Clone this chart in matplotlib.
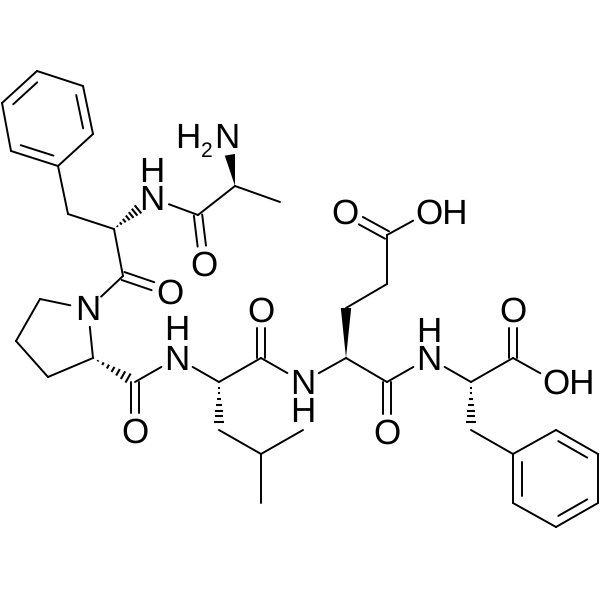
import matplotlib
matplotlib.use("Agg")
import matplotlib.pyplot as plt
import numpy as np

plt.rcParams["text.hinting"] = "no_hinting"
plt.rcParams["text.hinting_factor"] = 1

# atom positions in reference pixels
atom_names = ["r1","r2","r3","r4","r5","r6","cb1","ca1","c1","o1","n1","n2","c0","o0","ca0","me0","n0",
              "p1","p2","p3","p4","c2","o2","n3","ca3","c3","o3","cb3","cg3","d1","d2",
              "n4","ca4","c4","o4","cb4","cg4","cd4","oe1","oe2",
              "n5","ca5","c5","o5","oh5","cb5","s1","s2","s3","s4","s5","s6"]
atom_x = [37,83,93,58,11,2,68,114,123,170,88,152,198,204,235,280,227,
          40,16,48,93,135,135,177,219,261,261,219,261,261,303,
          303,346,387,387,346,387,387,345,429,
          429,471,513,513,556,471,513,556,598,598,556,513]
atom_y = [71,86,134,166,151,103,214,229,276,292,309,198,215,264,186,202,137,
          299,341,377,358,382,431,358,382,358,310,430,454,503,430,
          382,358,382,432,308,284,235,212,212,
          358,382,358,310,382,430,454,430,454,503,527,503]

single_bonds = [("r1","r2"),("r3","r4"),("r5","r6"),
                ("r4","cb1"),("cb1","ca1"),("ca1","c1"),("c1","n1"),
                ("n1","p1"),("p1","p2"),("p2","p3"),("p3","p4"),("p4","n1"),
                ("c0","n2"),("c0","ca0"),("ca0","me0"),
                ("c2","n3"),("n3","ca3"),("ca3","c3"),("c3","n4"),("n4","ca4"),
                ("cb3","cg3"),("cg3","d1"),("cg3","d2"),
                ("ca4","c4"),("c4","n5"),("n5","ca5"),("ca5","c5"),("c5","oh5"),
                ("cb4","cg4"),("cg4","cd4"),("cd4","oe2"),
                ("cb5","s1"),("s1","s2"),("s3","s4"),("s5","s6")]
carbonyls = [("c1","o1"),("c0","o0"),("c2","o2"),("c3","o3"),("c4","o4"),("cd4","oe1"),("c5","o5")]
ring_doubles = [("r1","r6",(45,102)),("r2","r3",(45,102)),("r4","r5",(45,102)),
                ("s2","s3",(556,479)),("s4","s5",(556,479)),("s6","s1",(556,479))]
solid_wedges = [("ca0","n0"),("ca4","cb4")]
hashed_wedges = [("ca1","n2"),("p4","c2"),("ca3","cb3"),("ca5","cb5")]

label_atoms = ["o1","n1","o0","n0","o2","n3","o3","n4","o4","oe1","oe2","n5","o5","oh5","n2"]

plain_labels = [("O",170,292),("N",88,309),("O",204,264),("H",152,170),("N",152,198),
                ("O",135,431),("H",177,329),("N",177,358),("O",261,310),("N",303,382),("H",303,411),
                ("O",387,432),("O",345,212),("H",429,330),("N",429,358),("O",513,310)]
oh_labels = [("OH",556,382),("OH",429,212)]

pos = {n: np.array([x, y], float) for n, x, y in zip(atom_names, atom_x, atom_y)}

LW = 1.4
TRIM = 18.0

fig = plt.figure(figsize=(6, 6), dpi=100)
ax = fig.add_axes([0, 0, 1, 1])
ax.set_xlim(0, 600)
ax.set_ylim(600, 0)
ax.axis("off")


def ends(a, b):
    p, q = pos[a].copy(), pos[b].copy()
    u = (q - p) / np.linalg.norm(q - p)
    if a in label_atoms:
        p = p + u * TRIM
    if b in label_atoms:
        q = q - u * TRIM
    return p, q, u


def seg(p, q):
    ax.plot([p[0], q[0]], [p[1], q[1]], color="black", lw=LW, solid_capstyle="round")


for a, b in single_bonds:
    p, q, _ = ends(a, b)
    seg(p, q)

for a, b in carbonyls:
    p, q, u = ends(a, b)
    n = np.array([-u[1], u[0]])
    seg(p + n * 4.2, q + n * 4.2)
    seg(p - n * 4.2, q - n * 4.2)

for a, b, c in ring_doubles:
    p, q, u = ends(a, b)
    seg(p, q)
    n = np.array([-u[1], u[0]])
    mid = (p + q) / 2
    if np.dot(np.array(c, float) - mid, n) < 0:
        n = -n
    seg(p + n * 8.5 + u * 7.5, q + n * 8.5 - u * 7.5)

for a, b in solid_wedges:
    p, q, u = ends(a, b)
    n = np.array([-u[1], u[0]])
    tri = np.array([p, q + n * 5.2, q - n * 5.2])
    ax.fill(tri[:, 0], tri[:, 1], color="black", lw=0)

for a, b in hashed_wedges:
    p, q, u = ends(a, b)
    if b in ("c2", "cb3", "cb5"):
        q = q - u * 8
    n = np.array([-u[1], u[0]])
    for t in np.linspace(0.14, 1.0, 7):
        c = p + (q - p) * t
        w = 5.2 * t
        ax.plot([c[0] - n[0] * w, c[0] + n[0] * w], [c[1] - n[1] * w, c[1] + n[1] * w],
                color="black", lw=1.5, solid_capstyle="butt")

FONT = "Liberation Sans"
FS = 25
BASE = 11.5
for s, x, y in plain_labels:
    ax.text(x, y + BASE, s, fontsize=FS, family=FONT, ha="center", va="baseline")
for s, x, y in oh_labels:
    ax.text(x - 13.5, y + BASE, s, fontsize=FS, family=FONT, ha="left", va="baseline")
ax.text(188, 137 + BASE, "H", fontsize=FS, family=FONT, ha="center", va="baseline")
ax.text(207, 157, "2", fontsize=15, family=FONT, ha="center", va="baseline")
ax.text(227, 137 + BASE, "N", fontsize=FS, family=FONT, ha="center", va="baseline")

fig.savefig("out.png", dpi=100, facecolor="white")
